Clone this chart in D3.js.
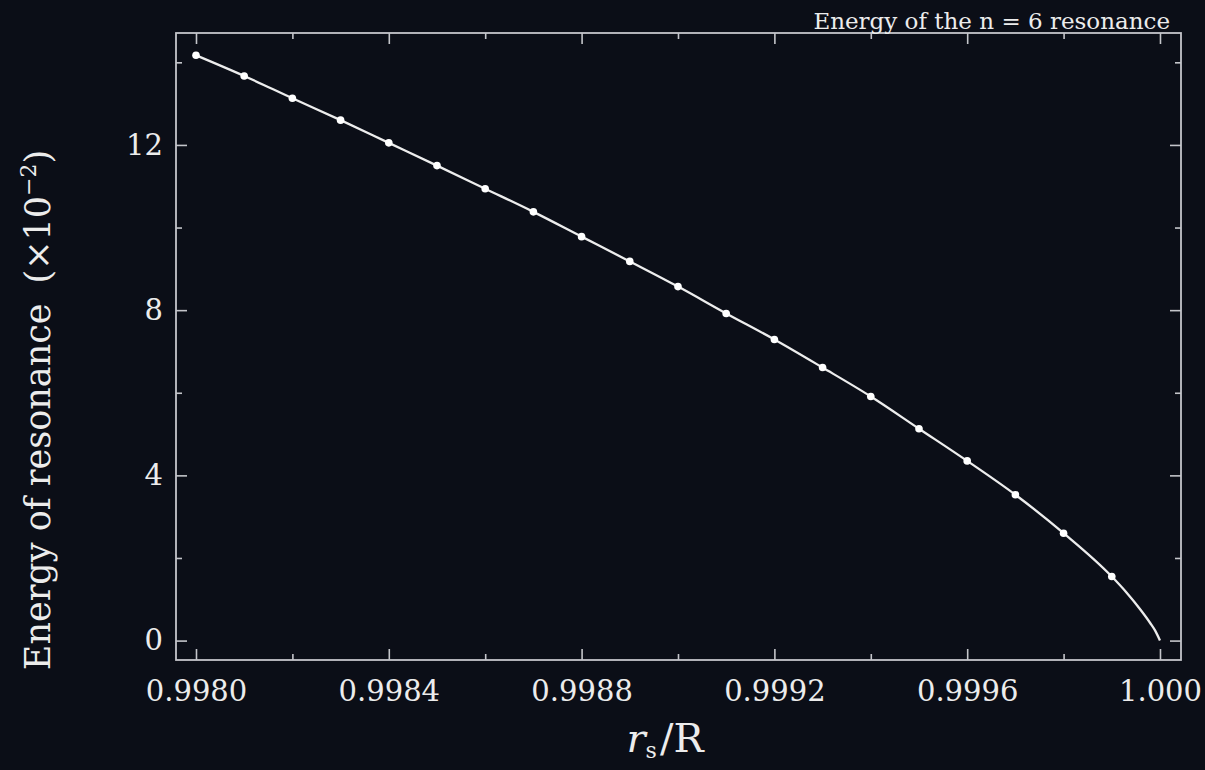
<!DOCTYPE html>
<html>
<head>
<meta charset="utf-8">
<script src="https://cdn.jsdelivr.net/npm/d3@7"></script>
<style>
  html, body { margin: 0; padding: 0; background: #0b0e17; }
  svg { display: block; }
  text { font-family: "DejaVu Serif", "Liberation Serif", serif; fill: #ececec; }
</style>
</head>
<body>
<div id="chart"></div>
<script>
// sampled resonance energies (x10^-2) at r_s/R
const rsValues = [0.9980, 0.9981, 0.9982, 0.9983, 0.9984, 0.9985, 0.9986, 0.9987, 0.9988, 0.9989,
                  0.9990, 0.9991, 0.9992, 0.9993, 0.9994, 0.9995, 0.9996, 0.9997, 0.9998, 0.9999];
const energyValues = [14.17, 13.67, 13.13, 12.60, 12.05, 11.50, 10.94, 10.38, 9.78, 9.18,
                      8.57, 7.92, 7.29, 6.61, 5.91, 5.13, 4.35, 3.53, 2.60, 1.55];
// fitted curve tail toward r_s/R = 1
const tailRs = [0.99993, 0.99996, 0.99998, 0.99999, 1.0000];
const tailEnergy = [1.17, 0.74, 0.42, 0.24, 0.0];

const xMajorTicks = [0.9980, 0.9984, 0.9988, 0.9992, 0.9996, 1.0000];
const xTickLabels = ["0.9980", "0.9984", "0.9988", "0.9992", "0.9996", "1.000"];
const xMinorTicks = [0.9982, 0.9986, 0.9990, 0.9994, 0.9998];
const yMajorTicks = [0, 4, 8, 12];
const yMinorTicks = [2, 6, 10, 14];

const W = 1205, H = 770;
const margin = {top: 33, right: 24, bottom: 110, left: 176};
const width = W - margin.left - margin.right;
const height = H - margin.top - margin.bottom;

const svg = d3.select("#chart").append("svg")
  .attr("width", W)
  .attr("height", H);

svg.append("rect").attr("width", W).attr("height", H).attr("fill", "#0b0e17");

const g = svg.append("g")
  .attr("transform", "translate(" + margin.left + "," + margin.top + ")");

const x = d3.scaleLinear()
  .domain([0.99795851, 1.0000436])
  .range([0, width]);

const y = d3.scaleLinear()
  .domain([-0.47, 14.71])
  .range([height, 0]);

const axisColor = "#c4c5ca";

function styleAxis(sel) {
  sel.select(".domain").remove();
  sel.selectAll(".tick line").attr("stroke", axisColor).attr("stroke-width", 1.6);
  sel.selectAll(".tick text").attr("fill", "#ececec");
}

// bottom axis with labels
g.append("g")
  .attr("transform", "translate(0," + height + ")")
  .call(d3.axisBottom(x).tickValues(xMajorTicks).tickSize(-11).tickPadding(20)
    .tickFormat((d, i) => xTickLabels[i]))
  .call(styleAxis)
  .selectAll("text").attr("font-size", 29).style("font-family", "DejaVu Serif");

g.append("g")
  .attr("transform", "translate(0," + height + ")")
  .call(d3.axisBottom(x).tickValues(xMinorTicks).tickSize(-6).tickFormat(""))
  .call(styleAxis);

// top axis
g.append("g")
  .call(d3.axisTop(x).tickValues(xMajorTicks).tickSize(-11).tickFormat(""))
  .call(styleAxis);
g.append("g")
  .call(d3.axisTop(x).tickValues(xMinorTicks).tickSize(-6).tickFormat(""))
  .call(styleAxis);

// left axis with labels
g.append("g")
  .call(d3.axisLeft(y).tickValues(yMajorTicks).tickSize(-11).tickPadding(13))
  .call(styleAxis)
  .selectAll("text").attr("font-size", 29).style("font-family", "DejaVu Serif");
g.append("g")
  .call(d3.axisLeft(y).tickValues(yMinorTicks).tickSize(-6).tickFormat(""))
  .call(styleAxis);

// right axis
g.append("g")
  .attr("transform", "translate(" + width + ",0)")
  .call(d3.axisRight(y).tickValues(yMajorTicks).tickSize(-11).tickFormat(""))
  .call(styleAxis);
g.append("g")
  .attr("transform", "translate(" + width + ",0)")
  .call(d3.axisRight(y).tickValues(yMinorTicks).tickSize(-6).tickFormat(""))
  .call(styleAxis);

// frame
g.append("rect")
  .attr("width", width)
  .attr("height", height)
  .attr("fill", "none")
  .attr("stroke", axisColor)
  .attr("stroke-width", 1.8);

// curve
const lineData = rsValues.map((r, i) => ({r: r, e: energyValues[i]}))
  .concat(tailRs.map((r, i) => ({r: r, e: tailEnergy[i]})));

g.append("path")
  .datum(lineData)
  .attr("fill", "none")
  .attr("stroke", "#ededed")
  .attr("stroke-width", 2.3)
  .attr("d", d3.line()
    .curve(d3.curveMonotoneX)
    .x(d => x(d.r))
    .y(d => y(d.e)));

// sample points
g.selectAll("circle.pt")
  .data(rsValues)
  .enter().append("circle")
  .attr("class", "pt")
  .attr("cx", d => x(d))
  .attr("cy", (d, i) => y(energyValues[i]))
  .attr("r", 3.8)
  .attr("fill", "#ffffff");

// y axis title
const yTitle = svg.append("text")
  .attr("transform", "translate(50," + 410 + ") rotate(-90)")
  .attr("text-anchor", "middle")
  .attr("font-size", 35);
yTitle.append("tspan").text("Energy of resonance");
yTitle.append("tspan").attr("dx", 20).text("(×10");
yTitle.append("tspan").attr("font-size", 22).attr("dy", -14).text("−2");
yTitle.append("tspan").attr("dy", 14).text(")");

// x axis title
const xTitle = svg.append("text")
  .attr("x", 665)
  .attr("y", 752)
  .attr("text-anchor", "middle")
  .attr("font-size", 40);
xTitle.append("tspan").attr("font-style", "italic").text("r");
xTitle.append("tspan").attr("font-size", 22).attr("dy", 6).text("s");
xTitle.append("tspan").attr("dy", -6).attr("dx", 3).text("/R");

// chart title
svg.append("text")
  .attr("x", 1170)
  .attr("y", 29)
  .attr("text-anchor", "end")
  .attr("font-size", 23)
  .attr("fill", "#e2e2e2")
  .text("Energy of the n = 6 resonance");
</script>
</body>
</html>
